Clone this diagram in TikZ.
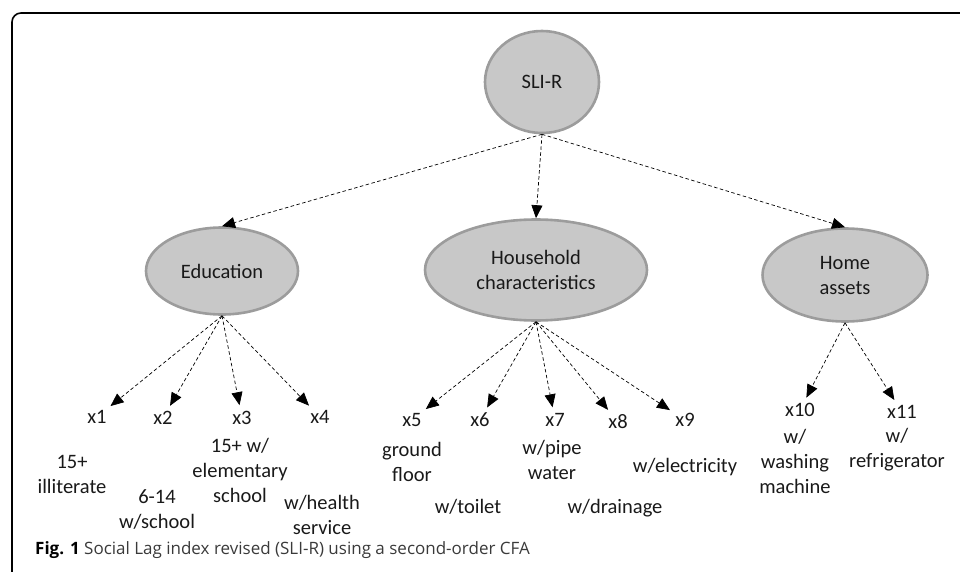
\documentclass[tikz,border=0pt]{standalone}
\usepackage{fontspec}
\setmainfont{Carlito}
\newfontfamily\capfont{Open Sans}
\usetikzlibrary{shapes.geometric,arrows.meta}
\definecolor{latfill}{HTML}{C8C8C8}
\definecolor{latline}{HTML}{9C9C9C}
\definecolor{captext}{HTML}{3A3A3A}

\begin{document}
\begin{tikzpicture}[x=1pt,y=-1pt,
    latent/.style={ellipse,draw=latline,fill=latfill,line width=2.6pt,
      inner sep=0pt,align=center},
    obs/.style={inner sep=1pt},
    lbl/.style={align=center,inner sep=0pt},
    load/.style={-{Triangle[length=13pt,width=11pt]},dashed,
      dash pattern=on 3.5pt off 2.5pt,line width=0.7pt},
    every node/.style={font=\fontsize{20.5}{25}\selectfont,text=black!90}]
  \useasboundingbox (0,0) rectangle (960,572);
  % frame
  \draw[line width=1.6pt,rounded corners=9pt] (12,572) -- (12,13) -- (962,13);
  % factors
  \node[latent,minimum width=114pt,minimum height=102pt] (sli) at (542,82) {SLI-R};
  \node[latent,minimum width=152pt,minimum height=87pt] (edu) at (222,271) {Education};
  \node[latent,minimum width=222pt,minimum height=101pt] (hh) at (536,270) {Household\\characteristics};
  \node[latent,minimum width=165pt,minimum height=93pt] (home) at (845,275) {Home\\assets};
  % indicators
  \draw
    (97,417) node[obs] (x1){x1}
    (163,418) node[obs] (x2){x2}
    (242,418) node[obs] (x3){x3}
    (320,417) node[obs] (x4){x4}
    (412,420) node[obs] (x5){x5}
    (480,420) node[obs] (x6){x6}
    (555,420) node[obs] (x7){x7}
    (618,422) node[obs] (x8){x8}
    (685,420) node[obs] (x9){x9}
    (800,410) node[obs] (x10){x10}
    (902,412) node[obs] (x11){x11};
  % descriptions
  \draw
    (72,474) node[lbl] (d1){15+\\illiterate}
    (157,510) node[lbl] (d2){6-14\\w/school}
    (240,470) node[lbl] (d3){15+ w/\\elementary\\school}
    (322,515) node[lbl] (d4){w/health\\service}
    (412,462) node[lbl] (d5){ground\\floor}
    (468,507) node[lbl] (d6){w/toilet}
    (552,460) node[lbl] (d7){w/pipe\\water}
    (615,508) node[lbl] (d8){w/drainage}
    (685,467) node[lbl] (d9){w/electricity}
    (795,461) node[lbl] (d10){w/\\washing\\machine}
    (897,450) node[lbl] (d11){w/\\refrigerator};
  % loadings
  \begin{scope}[load]
    \draw (sli.south) to (edu.north);
    \draw (sli.south) to (hh.north);
    \draw (sli.south) to (home.north);
  \end{scope}
  \begin{scope}[load,shorten >=5pt]
    \draw (edu.south) to (x1);
    \draw (edu.south) to (x2);
    \draw (edu.south) to (x3);
    \draw (edu.south) to (x4);
    \draw (hh.south) to (x5);
    \draw (hh.south) to (x6);
    \draw (hh.south) to (x7);
    \draw (hh.south) to (x8);
    \draw (hh.south) to (x9);
    \draw (home.south) to (x10);
    \draw (home.south) to (x11);
  \end{scope}
  % caption
  \node[anchor=west,inner sep=0pt,font=\capfont\fontsize{17}{20}\selectfont,text=captext]
    (cap) at (35,550) {\textbf{\color{black}Fig. 1} Social Lag index revised (SLI-R) using a second-order CFA};
\end{tikzpicture}
\end{document}
